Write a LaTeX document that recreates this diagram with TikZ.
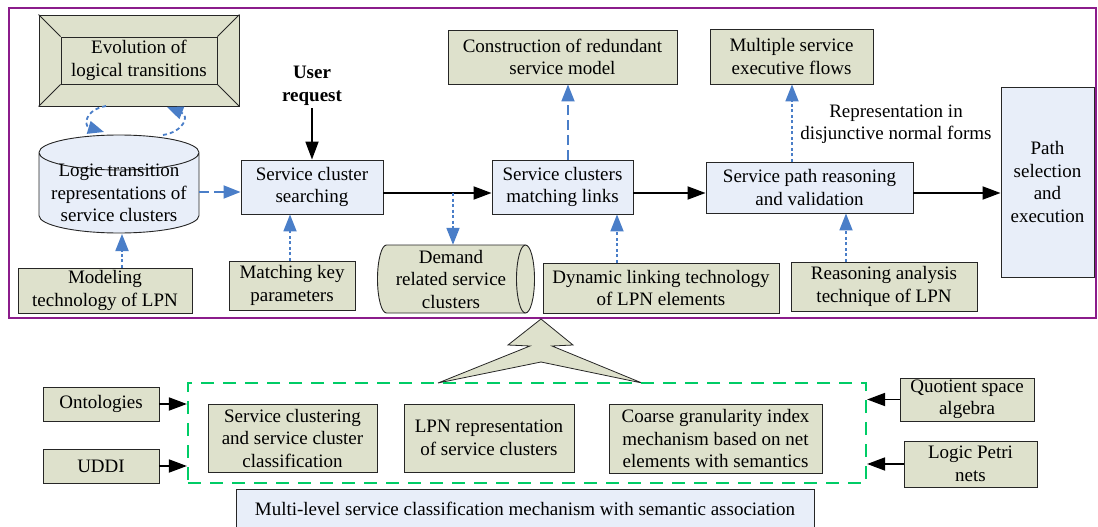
\documentclass[tikz,border=0pt]{standalone}
\usepackage{fontspec}
\setmainfont{Liberation Serif}
\usetikzlibrary{arrows.meta}
\definecolor{boxolive}{HTML}{DEE1CC}
\definecolor{boxblue}{HTML}{E8EEF9}
\definecolor{arrblue}{HTML}{4A7EC8}
\definecolor{frgreen}{HTML}{00CC66}
\definecolor{frpurple}{HTML}{8B1C8B}
\begin{document}
\begin{tikzpicture}[x=1pt,y=-1pt,
  every node/.style={font=\fontsize{19}{22.5}\selectfont, align=center},
  obox/.style={draw=black!85, line width=0.9pt, fill=boxolive, inner sep=0pt},
  bbox/.style={draw=black!85, line width=0.9pt, fill=boxblue, inner sep=0pt},
  blk/.style={line width=1.8pt, -{Triangle[length=18pt,width=13pt]}},
  bdash/.style={draw=arrblue, line width=1.8pt, dash pattern=on 10pt off 5pt, -{Triangle[length=17pt,width=13pt]}},
  bdot/.style={draw=arrblue, line width=1.8pt, dash pattern=on 3pt off 2.5pt, -{Triangle[length=17pt,width=13pt]}},
  bcurve/.style={draw=arrblue, line width=1.8pt, dash pattern=on 4pt off 3pt, -{Triangle[length=16pt,width=13pt]}},
  plain/.style={inner sep=0pt}
]
\useasboundingbox (0,0) rectangle (1098,527);
% purple frame
\draw[frpurple, line width=2.5pt] (9,8) rectangle (1096,318);

% Evolution frame box
\node[obox, minimum width=200pt, minimum height=91pt] (evo) at (139,60.5) {};
\node[draw=black!85, line width=0.9pt, inner sep=0pt, minimum width=156pt, minimum height=47pt] (evoin) at (139,60.5) {Evolution of\\logical transitions};
\draw[black!85, line width=0.9pt] (evo.north west) -- (evoin.north west)
  (evo.north east) -- (evoin.north east)
  (evo.south west) -- (evoin.south west)
  (evo.south east) -- (evoin.south east);

% vertical cylinder
\fill[boxblue] (39,152.5) -- (39,215.5) arc[start angle=180, end angle=360, x radius=80pt, y radius=17.5pt]
  -- (199,152.5) arc[start angle=0, end angle=180, x radius=80pt, y radius=17.5pt] -- cycle;
\draw[black!85, line width=0.9pt] (39,152.5) -- (39,215.5) arc[start angle=180, end angle=360, x radius=80pt, y radius=17.5pt]
  -- (199,152.5) arc[start angle=0, end angle=180, x radius=80pt, y radius=17.5pt]
  arc[start angle=180, end angle=360, x radius=80pt, y radius=17.5pt];
\node[plain] (cylt) at (119,193) {Logic transition\\representations of\\service clusters};
\coordinate (cylE) at (199,192);
\coordinate (cylB) at (122,234);

% curved arrows
\coordinate (e1) at (106,106);
\coordinate (c1) at (104,132);
\coordinate (c2) at (163,135);
\coordinate (e2) at (167,107);
\draw[bcurve] (e1) .. controls (84,110) and (84,126) .. (c1);
\draw[bcurve] (c2) .. controls (183,132) and (190,116) .. (e2);

% modeling
\node[obox, minimum width=174pt, minimum height=45pt] (model) at (105,290.5) {Modeling\\technology of LPN};
\draw[bdot] (model.north -| cylB) -- (cylB);

% service cluster searching
\node[bbox, minimum width=142pt, minimum height=54pt] (search) at (312,187) {Service cluster\\searching};
\draw[bdash] (cylE) -- (search.west |- cylE);
\node[plain, font=\fontsize{19}{22.5}\selectfont\bfseries] (user) at (312,86) {User\\request};
\draw[blk] (312,108) -- (search.north);

% matching key parameters
\node[obox, minimum width=126pt, minimum height=49pt] (mkey) at (292,285.5) {Matching key\\parameters};
\coordinate (mk) at (290,0);
\draw[bdot] (mkey.north -| mk) -- (search.south -| mk);

% service clusters matching links
\node[bbox, minimum width=141pt, minimum height=54pt] (links) at (562.5,187) {Service clusters\\matching links};
\coordinate (m1) at (453,193);
\draw[blk] (search.east |- m1) -- (links.west |- m1);

% demand cylinder
\node[plain, minimum width=157pt, minimum height=68pt] (demandbox) at (455.5,279) {};
\fill[boxolive] (386.5,245) -- (525.5,245) arc[start angle=90, end angle=-90, x radius=9pt, y radius=34pt]
  -- (386.5,313) arc[start angle=270, end angle=90, x radius=9pt, y radius=34pt] -- cycle;
\draw[black!85, line width=0.9pt] (386.5,245) -- (525.5,245) arc[start angle=90, end angle=-90, x radius=9pt, y radius=34pt]
  -- (386.5,313) arc[start angle=270, end angle=90, x radius=9pt, y radius=34pt];
\draw[black!85, line width=0.9pt] (525.5,245) arc[start angle=90, end angle=270, x radius=9pt, y radius=34pt];
\node[plain] (demand) at (451,279) {Demand\\related service\\clusters};
\draw[bdot] (m1) -- (demandbox.north -| m1);

% construction
\node[obox, minimum width=229pt, minimum height=54pt] (constr) at (562.5,57) {Construction of redundant\\service model};
\coordinate (lk) at (568,0);
\draw[bdash] (links.north -| lk) -- (constr.south -| lk);

% dynamic linking
\node[obox, minimum width=236pt, minimum height=50pt] (dyn) at (661,288) {Dynamic linking technology\\of LPN elements};
\coordinate (dk) at (617,0);
\draw[bdot] (dyn.north -| dk) -- (links.south -| dk);

% service path reasoning
\node[bbox, minimum width=207pt, minimum height=51pt] (reason) at (809.5,187.5) {Service path reasoning\\and validation};
\draw[blk] (links.east |- m1) -- (reason.west |- m1);

% multiple service executive flows
\node[obox, minimum width=163pt, minimum height=55pt] (multi) at (791.5,56.5) {Multiple service\\executive flows};
\coordinate (rk) at (792,0);
\draw[bdot] (reason.north -| rk) -- (multi.south -| rk);
\node[plain] (repr) at (896,124) {Representation in\\disjunctive normal forms};

% reasoning analysis technique
\node[obox, minimum width=186pt, minimum height=49pt] (rat) at (884,286.5) {Reasoning analysis\\technique of LPN};
\coordinate (ak) at (846,0);
\draw[bdot] (rat.north -| ak) -- (reason.south -| ak);

% path selection
\node[bbox, minimum width=93pt, minimum height=190pt] (path) at (1047.5,182) {Path\\selection\\and\\execution};
\draw[blk] (reason.east |- m1) -- (path.west |- m1);

% big arrow
\draw[black!85, line width=0.8pt, fill=boxolive] (541,319) -- (573,345) -- (552,346) -- (642,383) -- (541,362)
  -- (438,383) -- (530,346) -- (508,345) -- cycle;

% green dashed group
\node[draw=frgreen, line width=2.2pt, dash pattern=on 13pt off 9pt, minimum width=678pt, minimum height=100pt, inner sep=0pt] (grp) at (527,433) {};
\node[obox, minimum width=169pt, minimum height=68pt] (sclust) at (292.5,438) {Service clustering\\and service cluster\\classification};
\node[obox, minimum width=170pt, minimum height=68pt] (lpnrep) at (489,438) {LPN representation\\of service clusters};
\node[obox, minimum width=213pt, minimum height=69pt] (coarse) at (715.5,438.5) {Coarse granularity index\\mechanism based on net\\elements with semantics};

% left inputs
\node[obox, minimum width=116pt, minimum height=34pt] (onto) at (101,404) {Ontologies};
\node[obox, minimum width=116pt, minimum height=34pt] (uddi) at (101,466) {UDDI};
\draw[blk] (onto.east) -- (grp.west |- onto.east);
\draw[blk] (uddi.east) -- (grp.west |- uddi.east);

% right inputs
\node[obox, minimum width=134pt, minimum height=43pt] (quot) at (967,399.5) {Quotient space\\algebra};
\node[obox, minimum width=133pt, minimum height=46pt] (petri) at (970.5,464) {Logic Petri\\nets};
\draw[blk] (quot.west) -- (grp.east |- quot.west);
\draw[blk] (petri.west) -- (grp.east |- petri.west);

% multi-level box
\fill[boxblue] (236,489) rectangle (814,527);
\draw[black!85, line width=0.9pt] (236,527) -- (236,489) -- (814,489) -- (814,527);
\node[plain] (mlevel) at (525,509) {Multi-level service classification mechanism with semantic association};
\end{tikzpicture}
\end{document}
